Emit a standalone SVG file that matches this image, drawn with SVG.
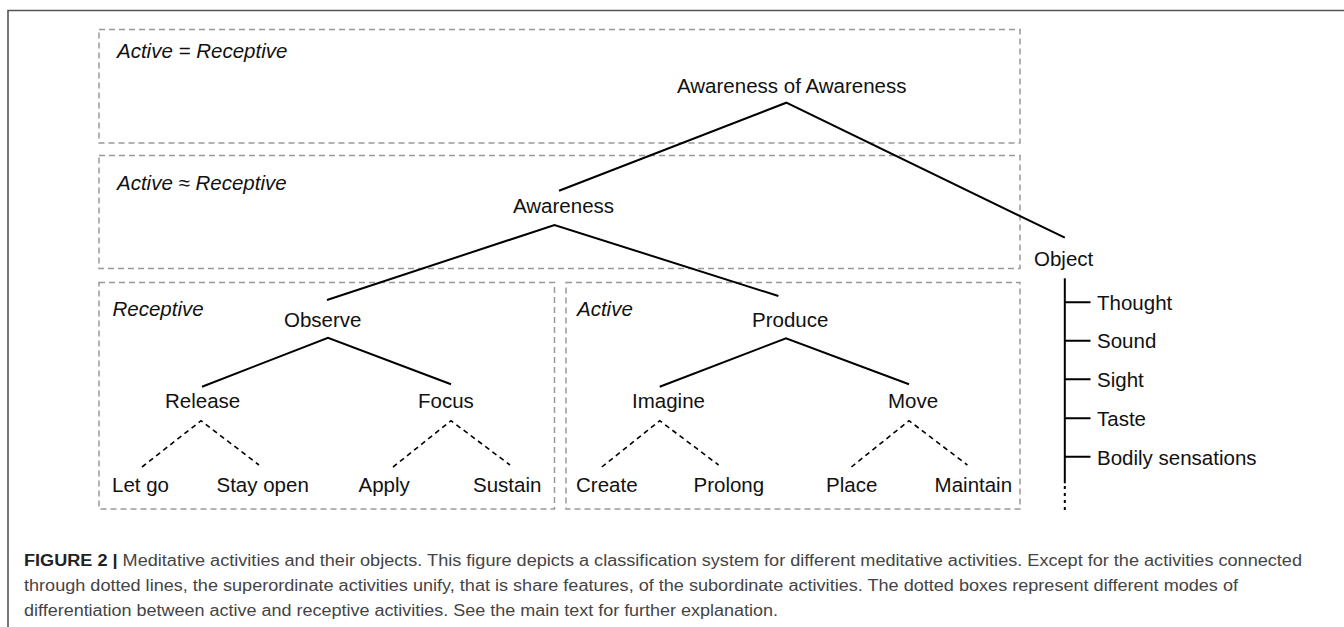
<svg xmlns="http://www.w3.org/2000/svg" width="1344" height="627" viewBox="0 0 1344 627">
<style>
.frame{fill:none;stroke:#555;stroke-width:1.6}
.box{fill:none;stroke:#999;stroke-width:1.5;stroke-dasharray:6 4}
.solid{fill:none;stroke:#000;stroke-width:2}
.dash{fill:none;stroke:#000;stroke-width:1.6;stroke-dasharray:5 4}
.dot{fill:none;stroke:#000;stroke-width:2;stroke-dasharray:3 4}
.t{font-family:"Liberation Sans",Arial,sans-serif;font-size:20.5px;fill:#111}
.it{font-family:"Liberation Sans",Arial,sans-serif;font-size:20.5px;font-style:italic;fill:#111}
.cap{font-family:"Liberation Sans",Arial,sans-serif;font-size:16px;fill:#444}
.capb{font-weight:bold;fill:#222}
</style>
<rect width="1344" height="627" fill="#fff"/>
<path class="frame" d="M1344,10.5 H8 V627"/>
<g id="mode-boxes">
<g id="box-equal"><rect class="box" x="99" y="29.5" width="921" height="113.5"/><text class="it" x="117" y="58">Active = Receptive</text></g>
<g id="box-approx"><rect class="box" x="99" y="155.5" width="921" height="113"/><text class="it" x="117" y="190">Active ≈ Receptive</text></g>
<g id="box-receptive"><rect class="box" x="99" y="282.5" width="455.5" height="226.5"/><text class="it" x="112.5" y="316">Receptive</text></g>
<g id="box-active"><rect class="box" x="566" y="282.5" width="454" height="226.5"/><text class="it" x="577" y="316">Active</text></g>
</g>
<g id="connectors">
<path class="solid" d="M559,190.7 L786.3,102.7 L1064.8,237.7"/>
<path class="solid" d="M327,300 L554.5,225 L778.4,296"/>
<path class="solid" d="M202,386.7 L328,337.7 L451,384.3"/>
<path class="solid" d="M659.7,386.7 L786,338.3 L909,384.3"/>
<path class="dash" d="M142,467 L201,420.7 L259,465"/>
<path class="dash" d="M393,467 L451,420.7 L510,465"/>
<path class="dash" d="M601.8,467 L659.7,420.7 L718.6,465"/>
<path class="dash" d="M851.4,467 L909,420.7 L967.4,465"/>
<path class="solid" d="M1064.8,278.3 V483.3"/>
<path class="dot" d="M1064.8,486 V510"/>
<path class="solid" d="M1064.8,302.3 H1090.5 M1064.8,340.7 H1090.5 M1064.8,379.3 H1090.5 M1064.8,418.3 H1090.5 M1064.8,456.7 H1090.5"/>
</g>
<g id="n-awareness-of-awareness"><text class="t" x="677" y="93">Awareness of Awareness</text></g>
<g id="n-awareness"><text class="t" x="513" y="213">Awareness</text></g>
<g id="n-object"><text class="t" x="1034" y="266">Object</text></g>
<g id="n-observe"><text class="t" x="284" y="327">Observe</text></g>
<g id="n-produce"><text class="t" x="752" y="327">Produce</text></g>
<g id="n-release"><text class="t" x="165" y="408">Release</text></g>
<g id="n-focus"><text class="t" x="418" y="408">Focus</text></g>
<g id="n-imagine"><text class="t" x="632" y="408">Imagine</text></g>
<g id="n-move"><text class="t" x="888" y="408">Move</text></g>
<g id="n-letgo"><text class="t" x="112" y="492">Let go</text></g>
<g id="n-stayopen"><text class="t" x="216.5" y="492">Stay open</text></g>
<g id="n-apply"><text class="t" x="358.5" y="492">Apply</text></g>
<g id="n-sustain"><text class="t" x="473" y="492">Sustain</text></g>
<g id="n-create"><text class="t" x="576" y="492">Create</text></g>
<g id="n-prolong"><text class="t" x="693.5" y="492">Prolong</text></g>
<g id="n-place"><text class="t" x="826" y="492">Place</text></g>
<g id="n-maintain"><text class="t" x="934.6" y="492">Maintain</text></g>
<g id="n-thought"><text class="t" x="1097" y="309.5">Thought</text></g>
<g id="n-sound"><text class="t" x="1097" y="348">Sound</text></g>
<g id="n-sight"><text class="t" x="1097" y="386.6">Sight</text></g>
<g id="n-taste"><text class="t" x="1097" y="425.6">Taste</text></g>
<g id="n-bodily"><text class="t" x="1097" y="464.5">Bodily sensations</text></g>
<g id="caption">
<text class="cap" x="24" y="566" textLength="1278" lengthAdjust="spacingAndGlyphs"><tspan class="capb">FIGURE 2 |</tspan> Meditative activities and their objects. This figure depicts a classification system for different meditative activities. Except for the activities connected</text>
<text class="cap" x="24" y="591" textLength="1214" lengthAdjust="spacingAndGlyphs">through dotted lines, the superordinate activities unify, that is share features, of the subordinate activities. The dotted boxes represent different modes of</text>
<text class="cap" x="24" y="615.5" textLength="754" lengthAdjust="spacingAndGlyphs">differentiation between active and receptive activities. See the main text for further explanation.</text>
</g>
</svg>
